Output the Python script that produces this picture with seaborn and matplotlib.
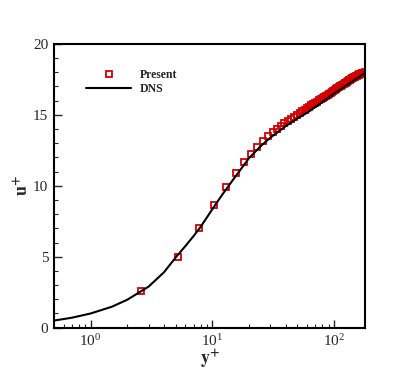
import numpy as np
import pandas as pd
import matplotlib
matplotlib.use("Agg")
import matplotlib.pyplot as plt
import seaborn as sns
from matplotlib.ticker import MultipleLocator, LogLocator

# present simulation (uniform grid in y+)
yp_present = [2.6, 5.2, 7.8, 10.4, 13.0, 15.6, 18.2, 20.8, 23.4, 26.0,
              28.6, 31.2, 33.8, 36.4, 39.0, 41.6, 44.2, 46.8, 49.4, 52.0,
              54.6, 57.2, 59.8, 62.4, 65.0, 67.6, 70.2, 72.8, 75.4, 78.0,
              80.6, 83.2, 85.8, 88.4, 91.0, 93.6, 96.2, 98.8, 101.4, 104.0,
              106.6, 109.2, 111.8, 114.4, 117.0, 119.6, 122.2, 124.8, 127.4, 130.0,
              132.6, 135.2, 137.8, 140.4, 143.0, 145.6, 148.2, 150.8, 153.4, 156.0,
              158.6, 161.2, 163.8, 166.4, 169.0, 171.6, 174.2, 176.8, 179.4]
up_present = [2.55, 4.96, 7.0, 8.65, 9.92, 10.88, 11.68, 12.27, 12.76, 13.16,
              13.49, 13.78, 14.01, 14.22, 14.40, 14.57, 14.72, 14.86, 15.0, 15.12,
              15.24, 15.35, 15.46, 15.56, 15.66, 15.75, 15.84, 15.93, 16.02, 16.10,
              16.18, 16.26, 16.34, 16.41, 16.48, 16.55, 16.62, 16.69, 16.76, 16.82,
              16.88, 16.94, 17.0, 17.06, 17.12, 17.17, 17.23, 17.28, 17.33, 17.38,
              17.43, 17.48, 17.52, 17.57, 17.61, 17.65, 17.69, 17.73, 17.77, 17.80,
              17.83, 17.86, 17.89, 17.91, 17.93, 17.95, 17.97, 17.98, 17.99]

# DNS reference
yp_dns = [0.5, 0.7, 1.0, 1.5, 2.0, 3.0, 4.0, 5.0, 6.0, 7.0, 8.0, 10.0, 12.0,
          15.0, 20.0, 25.0, 30.0, 40.0, 50.0, 60.0, 70.0, 80.0, 100.0, 120.0,
          150.0, 180.0]
up_dns = [0.5, 0.7, 1.0, 1.48, 1.97, 2.9, 3.9, 4.95, 5.75, 6.45, 7.1, 8.35, 9.35,
          10.5, 11.95, 12.8, 13.4, 14.2, 14.75, 15.15, 15.55, 15.9, 16.5, 16.95,
          17.5, 17.95]

sns.set_style("white")
plt.rcParams["font.family"] = ["Liberation Serif", "DejaVu Serif"]
plt.rcParams["mathtext.fontset"] = "stix"

red = "#d40000"

fig = plt.figure(figsize=(4.15, 3.69), dpi=100)
ax = fig.add_axes([0.130, 0.112, 0.750, 0.769])

sns.lineplot(x=yp_present, y=up_present, ax=ax, marker="s", linestyle="",
             color=red, markerfacecolor="none", markeredgecolor=red,
             markersize=5, markeredgewidth=1.3, label="Present", sort=False,
             zorder=2)
sns.lineplot(x=yp_dns, y=up_dns, ax=ax, color="black", lw=1.5,
             label="DNS", sort=False, zorder=3)

ax.set_xscale("log")
ax.set_xlim(0.5, 180)
ax.set_ylim(0, 20)
ax.yaxis.set_major_locator(MultipleLocator(5))
ax.yaxis.set_minor_locator(MultipleLocator(1))
ax.xaxis.set_major_locator(LogLocator(base=10))
ax.xaxis.set_minor_locator(LogLocator(base=10, subs=np.arange(2, 10)))

ax.tick_params(which="both", direction="in", top=False, right=False,
               left=True, bottom=True, labelsize=11, pad=4)
ax.tick_params(which="major", length=6, width=1)
ax.tick_params(which="minor", length=3, width=0.8)
for s in ax.spines.values():
    s.set_linewidth(1.5)
    s.set_color("black")

ax.set_xlabel(r"$\mathbf{y}^{\mathbf{+}}$", fontsize=13, labelpad=-1)
ax.set_ylabel(r"$\mathbf{u}^{\mathbf{+}}$", fontsize=13, labelpad=1)

leg = ax.legend(loc="upper left", bbox_to_anchor=(0.07, 0.95), frameon=False,
                handlelength=3.8, handletextpad=0.7, labelspacing=0.2,
                prop={"weight": "bold", "size": 8.5})

fig.savefig("out.png", dpi=100)
